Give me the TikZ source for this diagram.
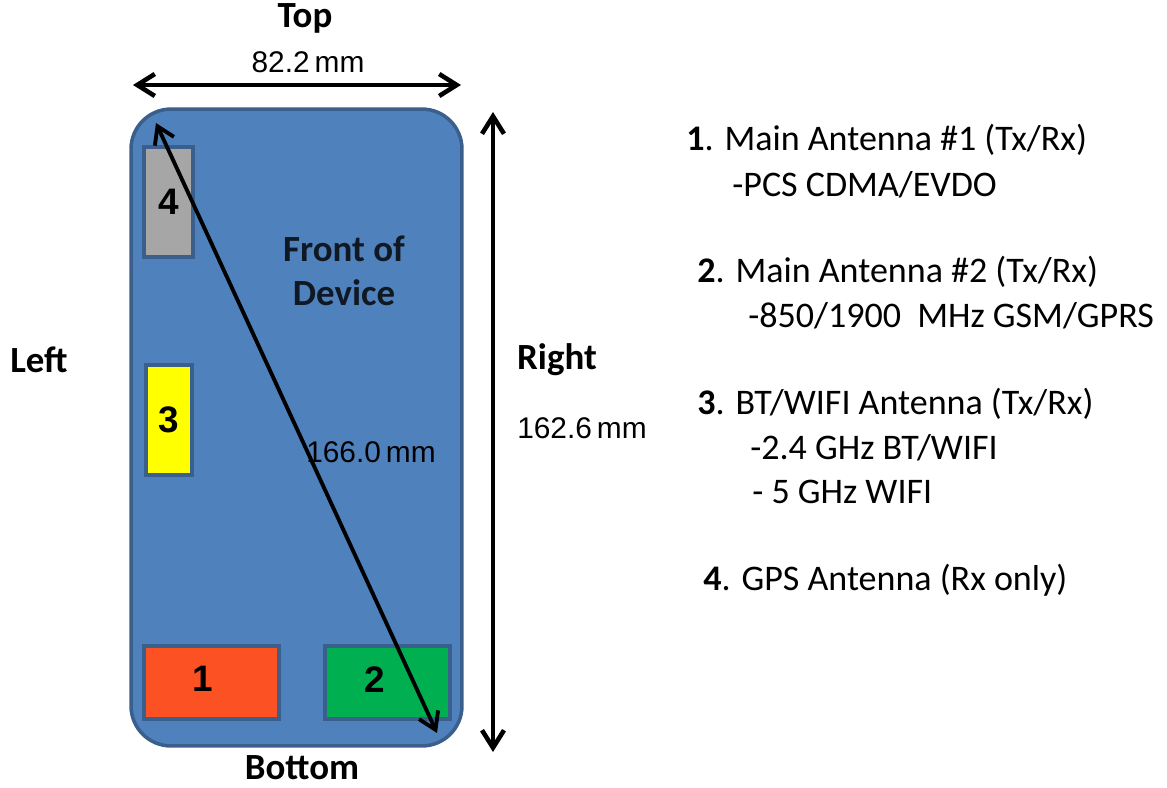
\documentclass[tikz,border=0pt]{standalone}
\usepackage{fontspec}
\setmainfont{Carlito}
\newfontfamily\arialfont{Liberation Sans}
\usetikzlibrary{positioning,arrows.meta}
\definecolor{devblue}{HTML}{4F81BD}
\definecolor{edgeblue}{HTML}{3A5F8C}
\definecolor{antred}{HTML}{FC5122}
\definecolor{antgreen}{HTML}{00B050}
\definecolor{antgray}{HTML}{A6A6A6}
\definecolor{antyellow}{HTML}{FFFF00}

\begin{document}
\begin{tikzpicture}[x=0.02cm, y=-0.02cm,
    dim/.style={line width=2.6pt, {Straight Barb[length=3.5mm,width=4.4mm,line width=2.6pt]}-{Straight Barb[length=3.5mm,width=4.4mm,line width=2.6pt]}},
    diag/.style={line width=2.2pt, {Straight Barb[length=3.3mm,width=4.2mm,line width=2.2pt]}-{Straight Barb[length=3.3mm,width=4.2mm,line width=2.2pt]}},
    numfont/.style={font=\arialfont\bfseries\fontsize{21}{24}\selectfont},
    ant/.style={draw=edgeblue, line width=2pt, inner sep=0pt, numfont},
    side/.style={inner sep=0pt, font=\bfseries\fontsize{21}{24}\selectfont},
    meas/.style={inner sep=0pt, font=\arialfont\fontsize{17}{20}\selectfont},
    item/.style={inner sep=0pt, anchor=west, font=\fontsize{20.5}{24}\selectfont}]

    \useasboundingbox (0,0) rectangle (1167,788);

    %Device
    \node   (device) [draw=edgeblue, fill=devblue, line width=2pt, rounded corners=0.8cm,
                      minimum width=6.62cm, minimum height=12.74cm] at (296.5,427.5) {};

    %Antennas
    \node   (four)  [ant, fill=antgray, minimum width=0.98cm, minimum height=2.2cm] at (168.5,202) {4};
    \node   (three) [ant, fill=antyellow, minimum width=0.92cm, minimum height=2.2cm] at (169,420) {3};
    \node   (one)   [ant, fill=antred, minimum width=2.7cm, minimum height=1.46cm,
                     label={[numfont, xshift=-0.17cm, yshift=0.08cm]center:1}] at (211.5,682.5) {};
    \node   (two)   [ant, fill=antgreen, minimum width=2.5cm, minimum height=1.46cm,
                     label={[numfont, xshift=-0.25cm, yshift=0.06cm]center:2}] at (387.5,682.5) {};

    %Labels
    \node   (front)  [side, text=edgeblue!25!black] at (344,249) {Front of};
    \node   (dev)    [side, text=edgeblue!25!black] at (344,293) {Device};
    \node   (top)    [side] at (305,18) {Top};
    \node   (bottom) [side] at (302,768) {Bottom};
    \node   (left)   [side] at (39,360) {Left};
    \node   (right)  [side] at (557,360) {Right};
    \node   (width)  [meas] at (308,62) {82.2\,mm};
    \node   (height) [meas] at (582,428) {162.6\,mm};
    \node   (diagl)  [meas] at (371,452) {166.0\,mm};

    %Dimension arrows
    \coordinate (wl) at (133,85);
    \coordinate (wr) at (461,85);
    \coordinate (ht) at (493,112);
    \coordinate (hb) at (493,752);
    \coordinate (dt) at (156,123);
    \coordinate (db) at (437,733);
    \draw[dim]  (wl) -- (wr);
    \draw[dim]  (ht) -- (hb);
    \draw[diag] (dt) -- (db);

    %Legend
    \node   (l1)  [item] at (686,140) {\textbf{1}. Main Antenna \#1 (Tx/Rx)};
    \node   (l1a) [item] at (732,185) {-PCS CDMA/EVDO};
    \node   (l2)  [item] at (697,272) {\textbf{2}. Main Antenna \#2 (Tx/Rx)};
    \node   (l2a) [item] at (748,316) {-850/1900~ MHz GSM/GPRS};
    \node   (l3)  [item] at (697,404) {\textbf{3}. BT/WIFI Antenna (Tx/Rx)};
    \node   (l3a) [item] at (750,448) {-2.4 GHz BT/WIFI};
    \node   (l3b) [item] at (752,492) {- 5 GHz WIFI};
    \node   (l4)  [item] at (703,580) {\textbf{4}. GPS Antenna (Rx only)};

\end{tikzpicture}
\end{document}
